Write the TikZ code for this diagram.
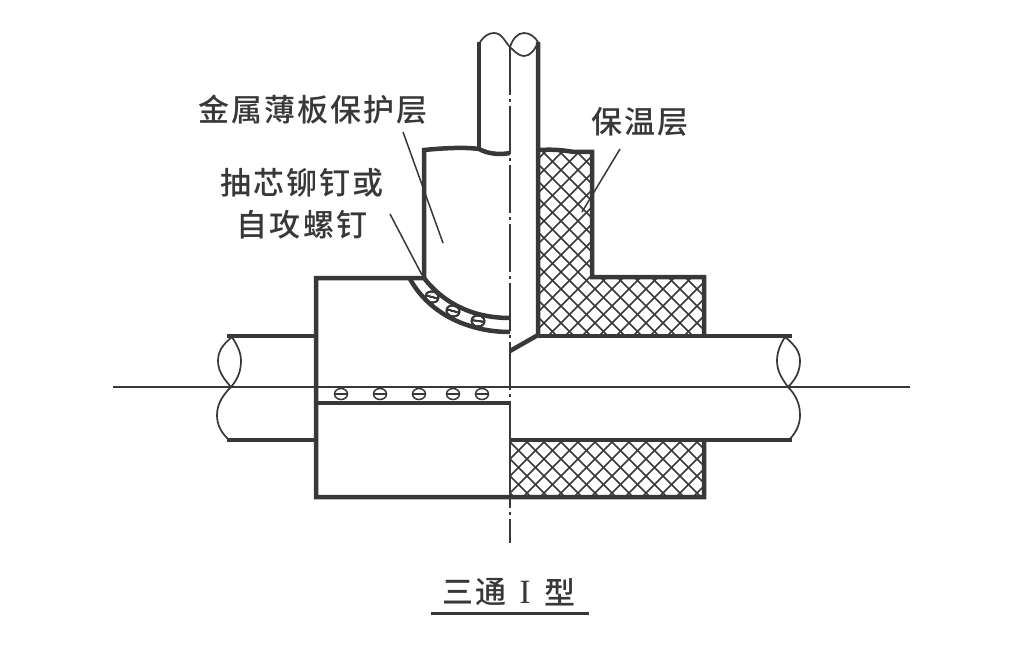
\documentclass[tikz,border=0pt]{standalone}
\usepackage{fontspec}
\setmainfont{Liberation Serif}
\newfontfamily\cjk[LetterSpace=6.5]{Noto Sans CJK SC Medium}
\definecolor{inkgray}{HTML}{383838}
\tikzset{
    wall/.style={inkgray, line width=4.5pt},
    thinline/.style={inkgray, line width=1.7pt},
    hatchline/.style={inkgray, line width=1.7pt},
    axisline/.style={inkgray, line width=1.4pt},
    leaderline/.style={inkgray, line width=1.5pt},
    labeltext/.style={inkgray, inner sep=0pt, font=\fontsize{31}{33}\selectfont\cjk},
    rivet/.style={inkgray, line width=1.5pt}
}
\newcommand{\crosshatch}{
    \foreach \k in {-1003,-986,...,1000} \draw[hatchline] (\k,0) -- (\k+700,700);
    \foreach \k in {0,17,...,1800} \draw[hatchline] (\k,0) -- (\k-700,700);
}
\newcommand{\screwmark}[3]{
    \draw[rivet, rotate around={#3:(#1,#2)}] (#1,#2) ellipse (6.5pt and 5.5pt);
    \draw[rivet, rotate around={#3:(#1,#2)}] (#1-6,#2) -- (#1+6,#2);
}
\begin{document}
\begin{tikzpicture}[x=1pt, y=-1pt]
    \useasboundingbox (0,0) rectangle (1024,647);
    % Labels
    \node[inkgray, inner sep=0pt, font=\fontsize{34}{36}\selectfont\rmfamily] (titletype) at (525,592) {I};
    \node[labeltext] (insullabel) at (640,122) {保温层};
    \node[labeltext] (sheetlabel) at (313,110) {金属薄板保护层};
    \node[labeltext] (rivetlabel) at (302,183) {抽芯铆钉或};
    \node[labeltext] (screwlabel) at (302,225) {自攻螺钉};
    \node[labeltext] (titlelabel) at (475,592) {三通};
    \node[labeltext] (titleform) at (560,592) {型};
    % Insulation hatching
    \begin{scope}
        \clip (538,150) -- (592,152) -- (592,277) -- (704,277) -- (704,335) -- (538,335) -- cycle;
        \crosshatch
    \end{scope}
    \begin{scope}
        \clip (510,440) rectangle (703,497);
        \crosshatch
    \end{scope}
    % Centre lines
    \draw[axisline] (113,387) -- (910,387);
    \draw[axisline, dash pattern=on 48pt off 4pt on 3pt off 4pt] (510,47) -- (510,543);
    \draw[thinline] (510,403) -- (510,497);
    % Vertical branch
    \draw[wall] (479,42) -- (479,149);
    \draw[wall] (538,42) -- (538,335) -- (510,351);
    \draw[thinline] (480,42) .. controls (484,36) and (489,33) .. (494,33) .. controls (502,33) and (505,42) .. (510,47) .. controls (515,52) and (519,56) .. (524,56) .. controls (530,56) and (535,50) .. (538,42);
    \draw[thinline] (510,47) .. controls (513,38) and (518,33) .. (524,33) .. controls (530,33) and (535,37) .. (538,42);
    % Sheet cover, left half
    \draw[wall] (510,153) .. controls (500,155) and (488,154) .. (479,149) .. controls (465,147) and (445,148) .. (424,150) -- (424,278);
    \draw[wall] (510,318) .. controls (475,318) and (445,305) .. (424,278) -- (316,278) -- (316,497) -- (704,497) -- (704,440);
    \draw[wall] (510,332) .. controls (470,332) and (430,315) .. (410,279);
    \draw[wall] (316,403) -- (510,403);
    % Sheet cover, right half
    \draw[wall] (538,150) .. controls (560,149) and (565,151) .. (575,152) -- (592,152) -- (592,277) -- (704,277) -- (704,335);
    % Horizontal run
    \draw[wall] (227,336) -- (316,336);
    \draw[wall] (227,440) -- (316,440);
    \draw[wall] (538,336) -- (792,336);
    \draw[wall] (510,440) -- (792,440);
    % Break marks
    \draw[thinline] (232,337) .. controls (222,345) and (218,352) .. (218,361) .. controls (218,372) and (225,380) .. (231,387) .. controls (237,380) and (241,372) .. (241,361) .. controls (241,352) and (237,345) .. (232,337);
    \draw[thinline] (231,387) .. controls (224,394) and (217,403) .. (217,415) .. controls (217,425) and (221,432) .. (228,439);
    \draw[thinline] (785,337) .. controls (780,345) and (777,352) .. (777,361) .. controls (777,372) and (783,380) .. (788,387) .. controls (795,380) and (800,372) .. (800,361) .. controls (800,352) and (795,345) .. (785,337);
    \draw[thinline] (788,387) .. controls (795,394) and (800,403) .. (800,415) .. controls (800,425) and (796,432) .. (790,439);
    % Rivets
    \foreach \xr in {341,380,419,453,482} \screwmark{\xr}{394}{0}
    \screwmark{432}{297}{-15}
    \screwmark{453}{311}{-15}
    \screwmark{478}{321}{-8}
    % Leaders
    \coordinate (sheettop) at (403,132);
    \coordinate (sheetend) at (443,243);
    \coordinate (rivettop) at (390,214);
    \coordinate (rivetend) at (422,275);
    \coordinate (insultop) at (620,149);
    \coordinate (insulend) at (582,212);
    \coordinate (titleleft) at (431,613);
    \coordinate (titleright) at (589,613);
    \draw[leaderline] (sheettop) -- (sheetend);
    \draw[leaderline] (rivettop) -- (rivetend);
    \draw[leaderline] (insultop) -- (insulend);
    \draw[inkgray, line width=3pt] (titleleft) -- (titleright);
\end{tikzpicture}
\end{document}
